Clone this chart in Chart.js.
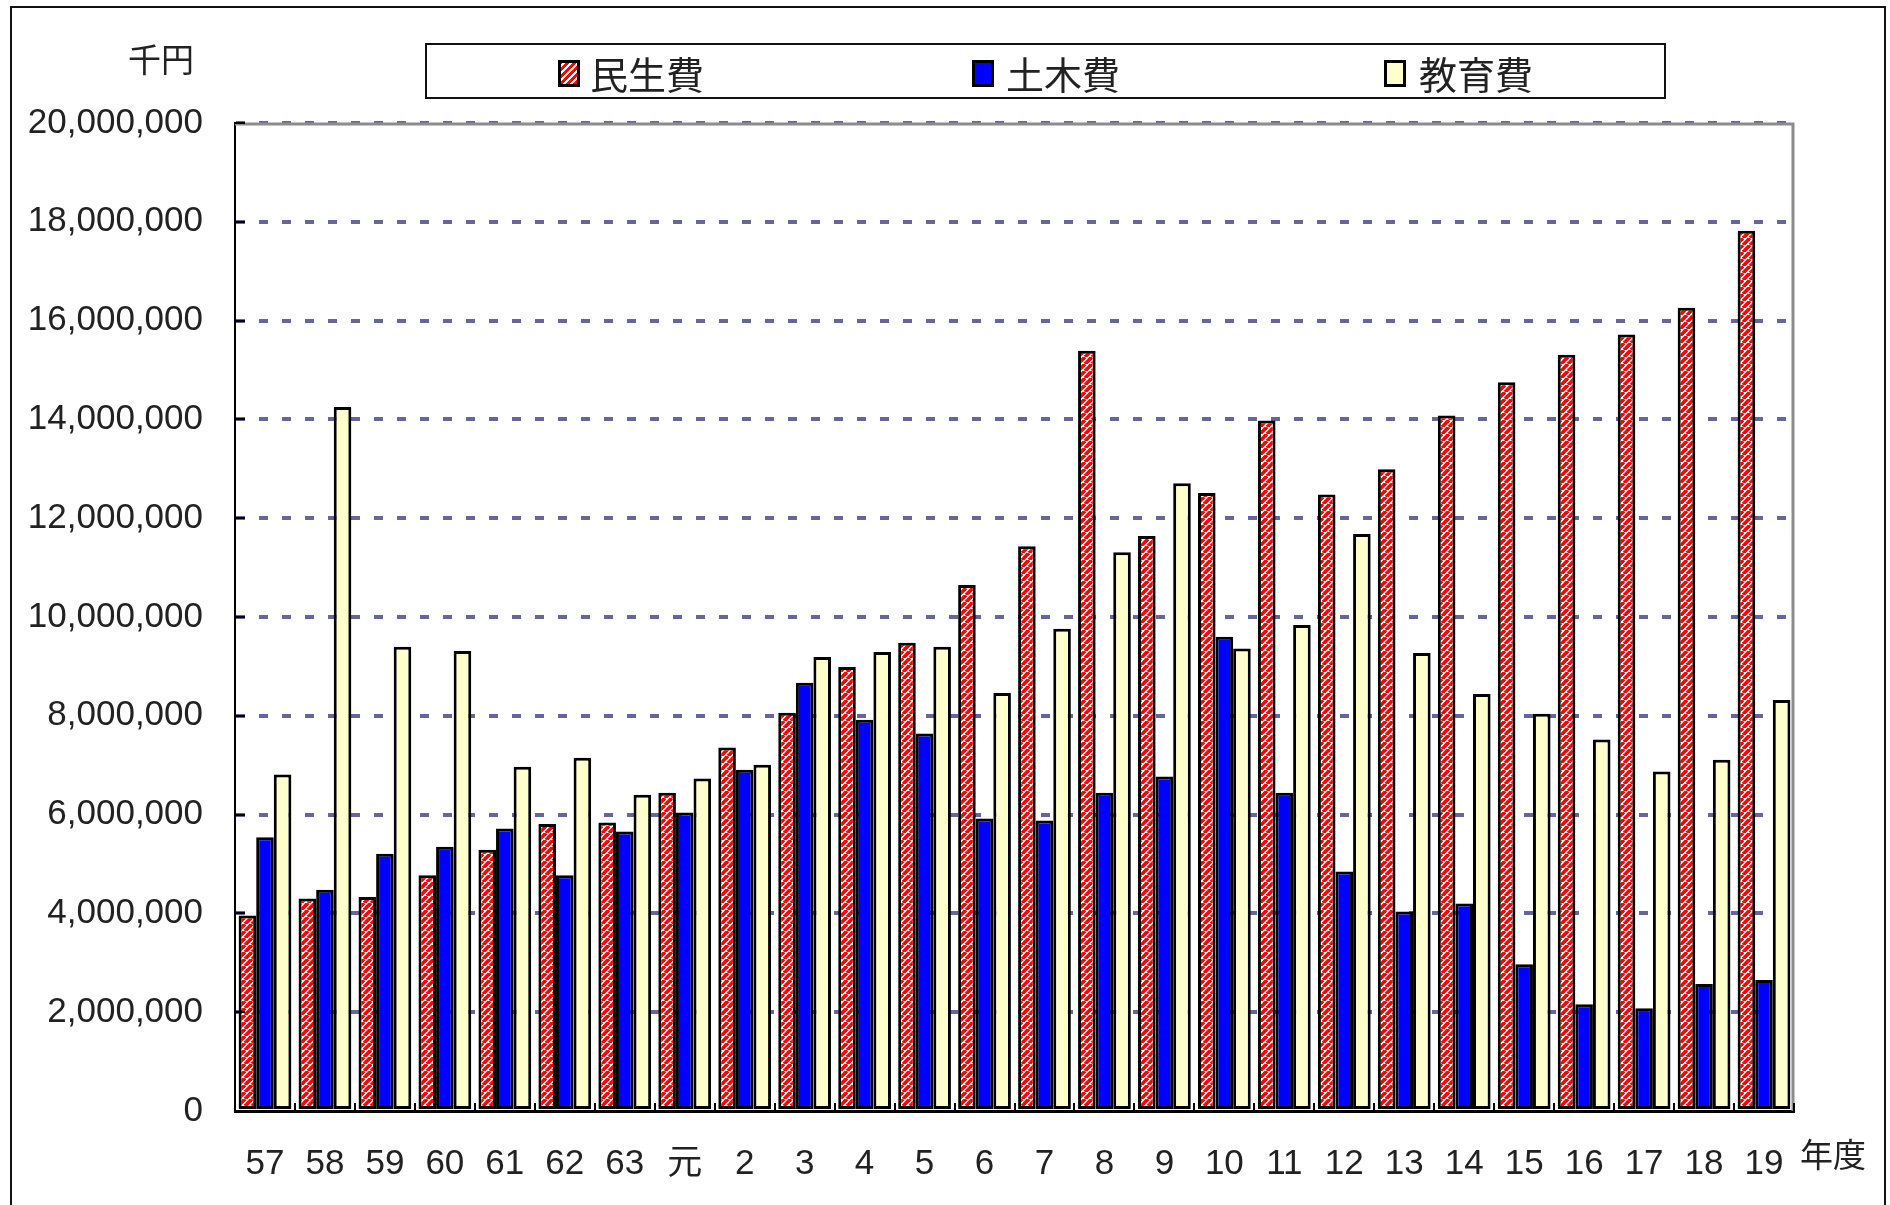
<!DOCTYPE html>
<html>
<head>
<meta charset="utf-8">
<script src="https://cdn.jsdelivr.net/npm/chart.js@4/dist/chart.umd.min.js"></script>
<style>
  body { margin: 0; background: #fff; width: 1890px; height: 1205px; overflow: hidden; position: relative; }
  #frame { position: absolute; left: 10px; top: 6px; width: 1876px; height: 1220px; border: 2px solid #111; box-sizing: border-box; }
  #chart { position: absolute; left: 0; top: 0; }
  .txt { position: absolute; font-family: "Noto Sans CJK JP", sans-serif; color: #222; line-height: 1; white-space: nowrap; }
  #legend { position: absolute; left: 425px; top: 43px; width: 1241px; height: 56px; border: 2px solid #111; box-sizing: border-box; }
  .sw { position: absolute; top: 60px; width: 22px; height: 27px; border: 3px solid #000; box-sizing: border-box; }
</style>
</head>
<body>
<div id="frame"></div>
<canvas id="chart" width="1890" height="1205"></canvas>
<div id="legend"></div>
<div class="sw" style="left:558px;background:repeating-linear-gradient(-45deg,#ff0000 0 3px,#fff 3px 5px);"></div>
<div class="txt" style="left:590px;top:54px;font-size:38px;">民生費</div>
<div class="sw" style="left:972px;background:#0000ff;"></div>
<div class="txt" style="left:1006px;top:54px;font-size:38px;">土木費</div>
<div class="sw" style="left:1384px;background:#ffffcc;"></div>
<div class="txt" style="left:1419px;top:54px;font-size:38px;">教育費</div>
<div class="txt" style="left:128px;top:42px;font-size:33px;">千円</div>
<div class="txt" style="left:1800px;top:1137px;font-size:33px;">年度</div>
<script>
const labels = ['57', '58', '59', '60', '61', '62', '63', '元', '2', '3', '4', '5', '6', '7', '8', '9', '10', '11', '12', '13', '14', '15', '16', '17', '18', '19']

// 千円
const minsei = [3960000, 4300000, 4330000, 4770000, 5290000, 5810000, 5840000, 6440000, 7360000, 8060000, 8990000, 9480000, 10650000, 11430000, 15390000, 11640000, 12510000, 13980000, 12480000, 12990000, 14080000, 14750000, 15310000, 15720000, 16260000, 17820000]
const doboku = [5540000, 4480000, 5210000, 5350000, 5720000, 4770000, 5660000, 6040000, 6910000, 8670000, 7920000, 7640000, 5920000, 5880000, 6440000, 6770000, 9600000, 6440000, 4850000, 4040000, 4200000, 2970000, 2160000, 2080000, 2570000, 2650000]
const kyoiku = [6810000, 14250000, 9400000, 9310000, 6970000, 7150000, 6400000, 6730000, 7010000, 9190000, 9290000, 9400000, 8460000, 9760000, 11310000, 12710000, 9360000, 9840000, 11680000, 9270000, 8440000, 8040000, 7520000, 6870000, 7110000, 8320000]

const yTicks = [0, 2000000, 4000000, 6000000, 8000000, 10000000, 12000000, 14000000, 16000000, 18000000, 20000000]

const stripes = () => {
  const n = 7
  const c = document.createElement('canvas')
  c.width = n
  c.height = n
  const g = c.getContext('2d')
  g.fillStyle = '#fff'
  g.fillRect(0, 0, n, n)
  g.strokeStyle = '#ff0000'
  g.lineWidth = 3.6
  ;[-n, 0, n].forEach(o => {
    g.beginPath()
    g.moveTo(o, n)
    g.lineTo(o + n, 0)
    g.stroke()
  })
  return g.createPattern(c, 'repeat')
}

const frameLines = {
  id: 'frameLines',
  afterDatasetsDraw(chart) {
    const { ctx, chartArea: a, scales: { x, y } } = chart
    ctx.save()
    // gray plot border top and right
    ctx.strokeStyle = '#8c8c8c'
    ctx.lineWidth = 3
    ctx.beginPath()
    ctx.moveTo(a.left, a.top + 1)
    ctx.lineTo(a.right - 1, a.top + 1)
    ctx.lineTo(a.right - 1, a.bottom)
    ctx.stroke()
    // inner tick marks
    ctx.strokeStyle = '#000'
    ctx.lineWidth = 2
    ctx.beginPath()
    for (let i = 0; i <= labels.length; i++) {
      const px = Math.round(x.getPixelForValue(i - 0.5))
      ctx.moveTo(px, a.bottom)
      ctx.lineTo(px, a.bottom - 8)
    }
    yTicks.forEach(v => {
      const py = Math.round(y.getPixelForValue(v))
      ctx.moveTo(a.left, py)
      ctx.lineTo(a.left + 10, py)
    })
    ctx.stroke()
    ctx.restore()
  }
}

const ctx = document.getElementById('chart').getContext('2d')
new Chart(ctx, {
  type: 'bar',
  data: {
    labels: labels,
    datasets: [
      { label: '民生費', data: minsei, backgroundColor: stripes() },
      { label: '土木費', data: doboku, backgroundColor: '#0000ff' },
      { label: '教育費', data: kyoiku, backgroundColor: '#ffffcc' }
    ]
  },
  options: {
    responsive: false,
    animation: false,
    layout: { padding: { left: 20, top: 123, right: 96, bottom: 14 } },
    datasets: {
      bar: {
        categoryPercentage: 0.88,
        barPercentage: 1.0,
        borderColor: '#000',
        borderWidth: 3,
        borderSkipped: false
      }
    },
    plugins: {
      legend: { display: false },
      tooltip: { enabled: false }
    },
    scales: {
      x: {
        offset: true,
        afterFit: s => { s.height = 80 },
        grid: { display: false },
        border: { display: true, color: '#000', width: 3 },
        ticks: {
          padding: 24,
          color: '#222',
          font: { family: '"Liberation Sans", "Noto Sans CJK JP"', size: 35 },
          maxRotation: 0,
          autoSkip: false
        }
      },
      y: {
        min: 0,
        max: 20000000,
        afterFit: s => { s.width = 215 },
        afterBuildTicks: s => { s.ticks = yTicks.map(v => ({ value: v })) },
        grid: {
          drawTicks: false,
          lineWidth: 4,
          color: c => c.tick && c.tick.value === 0 ? 'rgba(0,0,0,0)' : '#666699'
        },
        border: { display: true, color: '#000', width: 2, dash: [9, 14] },
        ticks: {
          padding: 32,
          color: '#222',
          font: { family: '"Liberation Sans"', size: 35 },
          callback: v => Number(v).toLocaleString('en-US')
        }
      }
    }
  },
  plugins: [frameLines]
})
</script>
</body>
</html>
